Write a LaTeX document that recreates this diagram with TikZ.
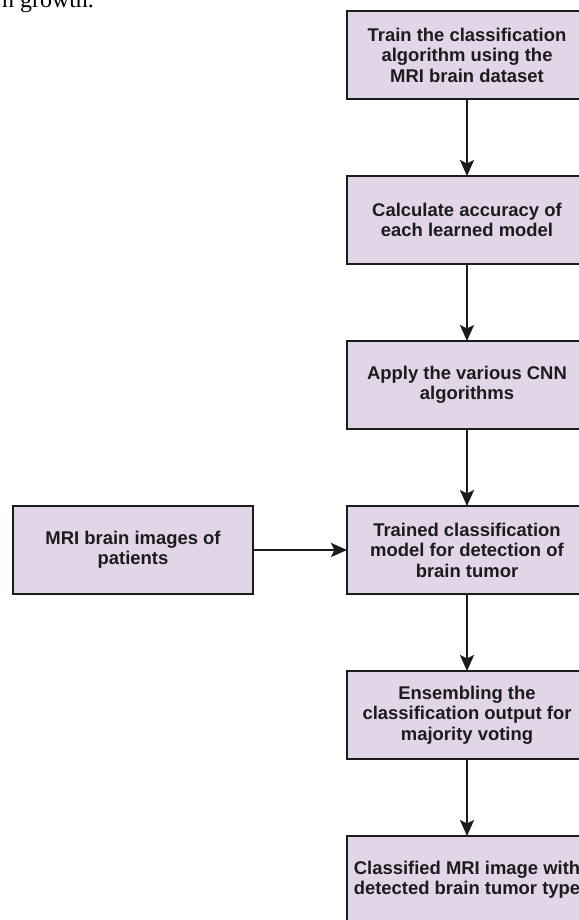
\documentclass[tikz,border=0pt]{standalone}
\usepackage{fontspec}
\setmainfont{Liberation Sans}
\newfontfamily\pageserif{Liberation Serif}
\usepackage{xcolor}
\usepackage{tikz}
\usetikzlibrary{arrows.meta,positioning}
\definecolor{boxfill}{HTML}{E1D5E7}
\definecolor{boxline}{HTML}{1C1C1C}

\begin{document}
\begin{tikzpicture}[
    x=1bp, y=-1bp,
    block/.style={draw=boxline, line width=2.5bp, fill=boxfill, align=center, minimum width=240bp, minimum height=88bp, inner sep=2bp, outer sep=0pt, text=boxline, font=\bfseries\fontsize{18.5}{20.5}\selectfont},
    arrow/.style={-{Stealth[length=16bp, width=14bp, inset=3.5bp]}, line width=2.6bp, draw=boxline},
    node distance=77bp and 94bp
]
\useasboundingbox (0,0) rectangle (579,920);
% cut-off text from the page above the figure
\node[anchor=base west, inner sep=0pt, font=\pageserif\fontsize{24}{28}\selectfont] (pagetext) at (2,7) {n growth.};

\node[block] (train) at (467,55) {Train the classification\\algorithm using the\\MRI brain dataset};
\node[block, below=of train] (accuracy) {Calculate accuracy of\\each learned model};
\node[block, below=of accuracy] (apply) {Apply the various CNN\\algorithms};
\node[block, below=of apply] (trained) {Trained classification\\model for detection of\\brain tumor};
\node[block, left=of trained] (mri) {MRI brain images of\\patients};
\node[block, below=of trained] (ensemble) {Ensembling the\\classification output for\\majority voting};
\node[block, below=of ensemble] (result) {Classified MRI image with\\detected brain tumor type};

\draw[arrow] (train) -- (accuracy);
\draw[arrow] (accuracy) -- (apply);
\draw[arrow] (apply) -- (trained);
\draw[arrow] (mri) -- (trained);
\draw[arrow] (trained) -- (ensemble);
\draw[arrow] (ensemble) -- (result);
\end{tikzpicture}
\end{document}
